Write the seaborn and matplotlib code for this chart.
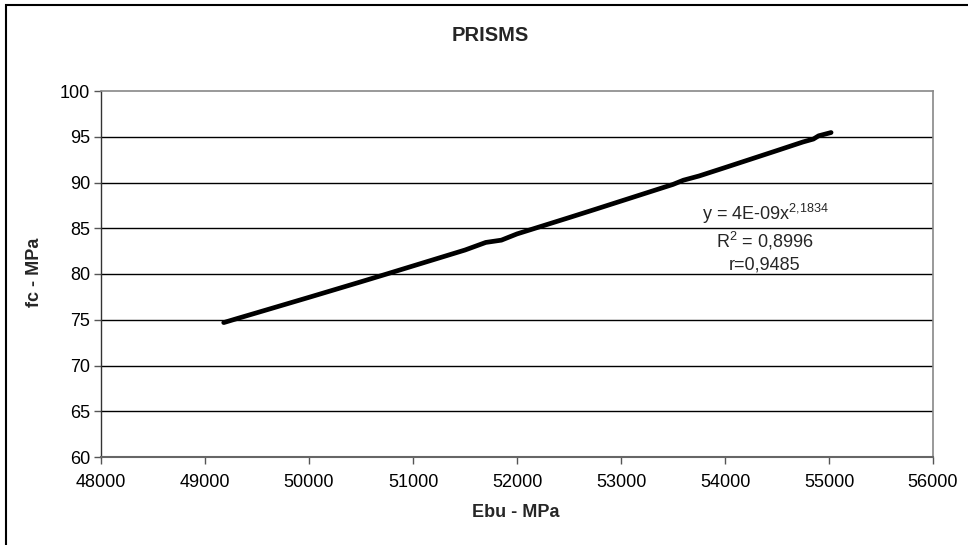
import matplotlib
matplotlib.use("Agg")
import matplotlib.pyplot as plt
import seaborn as sns
import pandas as pd
from matplotlib.patches import Rectangle

# Data
ebu = [49180, 49300, 49500, 49750, 50000, 50250, 50500, 50750, 51000, 51250,
       51500, 51700, 51850, 52000, 52250, 52500, 52750, 53000, 53250, 53500,
       53600, 53750, 54000, 54250, 54500, 54750, 54850, 54900, 55020]
fc = [74.69, 75.10, 75.77, 76.61, 77.45, 78.30, 79.15, 80.01, 80.88, 81.75,
      82.62, 83.45, 83.70, 84.38, 85.27, 86.16, 87.06, 87.97, 88.88, 89.79,
      90.25, 90.71, 91.63, 92.56, 93.49, 94.43, 94.75, 95.10, 95.46]

title = "PRISMS"
xlabel = "Ebu - MPa"
ylabel = "fc - MPa"
xticks = [48000, 49000, 50000, 51000, 52000, 53000, 54000, 55000, 56000]
yticks = [60, 65, 70, 75, 80, 85, 90, 95, 100]
eq_lines = [r"y = 4E-09x$^{2{,}1834}$", r"R$^{2}$ = 0,8996", "r=0,9485"]

sns.set_theme(style="white")
plt.rcParams["font.family"] = ["Liberation Sans", "DejaVu Sans"]
plt.rcParams["mathtext.fontset"] = "custom"
plt.rcParams["mathtext.rm"] = "Liberation Sans"
plt.rcParams["mathtext.it"] = "Liberation Sans"
plt.rcParams["mathtext.bf"] = "Liberation Sans:bold"

df = pd.DataFrame({"Ebu": ebu, "fc": fc})

fig = plt.figure(figsize=(9.68, 5.45), dpi=100)
ax = fig.add_axes([101/968, 1-457/545, (933-101)/968, (457-91)/545])

for yt in yticks[1:-1]:
    ax.axhline(yt, color="black", lw=1.0, zorder=1)

sns.lineplot(data=df, x="Ebu", y="fc", ax=ax, color="black", lw=3.4,
             sort=False, estimator=None, zorder=3)

ax.set_xlim(48000, 56000)
ax.set_ylim(60, 100)
ax.set_xticks(xticks)
ax.set_yticks(yticks)
ax.set_xticklabels([str(v) for v in xticks], fontsize=13)
ax.set_yticklabels([str(v) for v in yticks], fontsize=13)
ax.tick_params(axis="both", direction="out", length=5, width=1, color="#555555",
               pad=3, labelcolor="black", bottom=True, left=True)
ax.tick_params(axis="x", pad=7)

ax.spines["left"].set_color("#333333")
ax.spines["left"].set_linewidth(1.0)
ax.spines["bottom"].set_color("#666666")
ax.spines["bottom"].set_linewidth(1.5)
ax.spines["right"].set_color("#888888")
ax.spines["top"].set_color("#888888")
ax.spines["right"].set_linewidth(1.2)
ax.spines["top"].set_linewidth(1.2)

ax.set_xlabel(xlabel, fontsize=13, fontweight="bold")
ax.set_ylabel(ylabel, fontsize=13, fontweight="bold")
ax.xaxis.set_label_coords((516-101)/832, (457-504)/366)
ax.yaxis.set_label_coords((43-101)/832, (457-272)/366)

fig.text(490/968, 1-35/545, title, fontsize=14.5, fontweight="bold",
         ha="center", va="center")

# trendline label
ax.text(54385, 85.9, eq_lines[0], fontsize=13, ha="center", va="baseline")
ax.text(54385, 82.95, eq_lines[1], fontsize=13, ha="center", va="baseline")
ax.text(54385, 80.44, eq_lines[2], fontsize=13, ha="center", va="baseline")

# outer chart border
fig.patches.append(Rectangle((6/968, -0.05), 1.2, 1.05 - 5/545, transform=fig.transFigure,
                             fill=False, edgecolor="black", lw=1.5, clip_on=False))

fig.savefig("out.png", dpi=100)
